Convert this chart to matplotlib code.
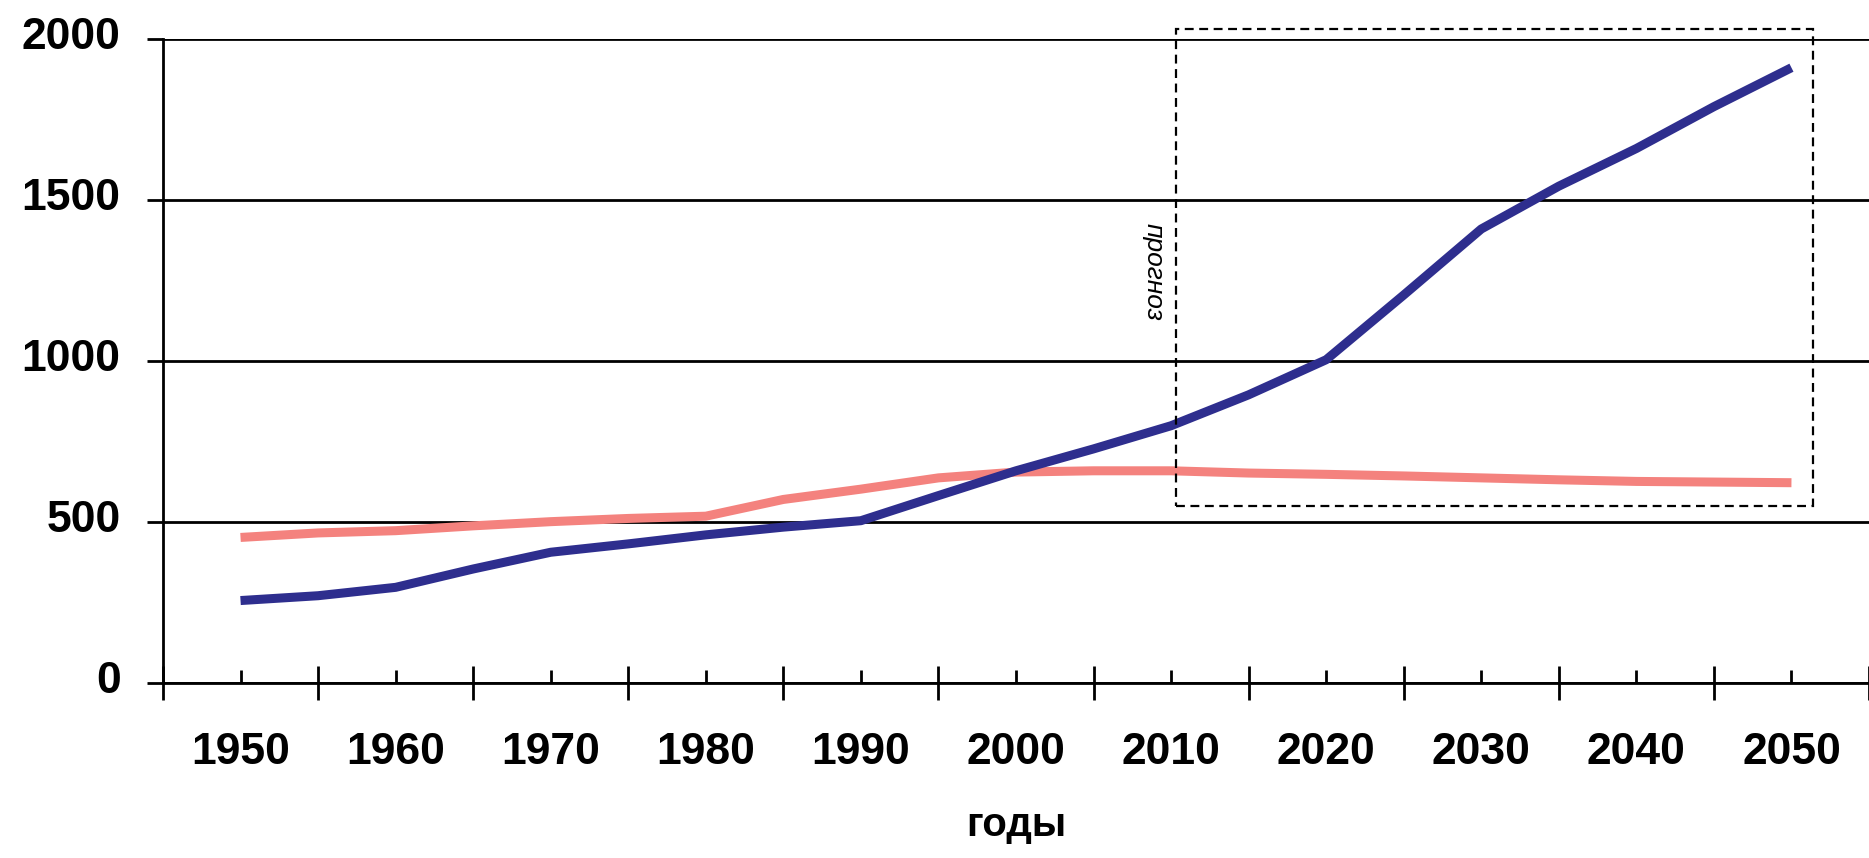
import matplotlib
matplotlib.use("Agg")
import matplotlib.pyplot as plt
from matplotlib.patches import Rectangle
from matplotlib.transforms import ScaledTranslation

plt.rcParams['font.family'] = ['Liberation Sans', 'DejaVu Sans']

# Data
years = [1950, 1955, 1960, 1965, 1970, 1975, 1980, 1985, 1990, 1995, 2000,
         2005, 2010, 2015, 2020, 2025, 2030, 2035, 2040, 2045, 2050]
blue_values = [256, 271, 297, 354, 406, 432, 460, 484, 504, 582, 659,
               727, 799, 895, 1004, 1205, 1410, 1543, 1660, 1790, 1911]
pink_values = [452, 466, 473, 488, 501, 511, 518, 570, 602, 637, 655,
               659, 659, 652, 648, 643, 637, 631, 626, 624, 622]
label_years = [1950, 1960, 1970, 1980, 1990, 2000, 2010, 2020, 2030, 2040, 2050]
y_ticks = [0, 500, 1000, 1500, 2000]

fig = plt.figure(figsize=(18.69, 8.58), dpi=100)
ax = fig.add_axes([0.0872, 0.204, 0.9128, 0.7505])

# Lines
ax.plot(years, pink_values, color='#F4827E', lw=6.5, solid_capstyle='butt', zorder=3)
ax.plot(years, blue_values, color='#2E2E8E', lw=6.5, solid_capstyle='butt', zorder=4)

# Axes limits and spines
ax.set_xlim(1945, 2055)
ax.set_ylim(0, 2000)
for side in ['top', 'right']:
    ax.spines[side].set_visible(False)
for side in ['left', 'bottom']:
    ax.spines[side].set_linewidth(2)
    ax.spines[side].set_color('black')

# Horizontal gridlines
ax.set_yticks(y_ticks)
ax.yaxis.grid(True, color='black', lw=2)
ax.set_axisbelow(True)

# X ticks: long separators between decades, short inner ticks at labels
ax.set_xticks(list(range(1945, 2056, 10)))
ax.set_xticklabels([])
ax.set_xticks(label_years, minor=True)
ax.set_xticklabels([str(y) for y in label_years], minor=True,
                   fontsize=32, fontweight='bold')
ax.tick_params(axis='x', which='major', direction='inout', length=24.5,
               width=2, color='black')
ax.tick_params(axis='x', which='minor', direction='in', length=9.5,
               width=2, color='black', pad=35)

ax.tick_params(axis='y', which='major', direction='out', length=11.5,
               width=2, color='black', pad=19)
ax.set_yticklabels([str(v) for v in y_ticks], fontsize=32, fontweight='bold')
for lab in ax.get_yticklabels():
    lab.set_transform(lab.get_transform() + ScaledTranslation(0, 0.06, fig.dpi_scale_trans))

ax.set_xlabel('годы', fontsize=29, fontweight='bold', labelpad=24)

# Forecast box
box = Rectangle((2010.3, 550), 2051.4 - 2010.3, 2031 - 550, fill=False,
                edgecolor='black', lw=1.6, linestyle=(0, (4, 2.5)),
                clip_on=False, zorder=5)
ax.add_patch(box)
ax.text(2008.9, 1276, 'прогноз', rotation=-90, ha='center', va='center',
        fontsize=19, style='italic', color='black')

fig.savefig('out.png', dpi=100)
